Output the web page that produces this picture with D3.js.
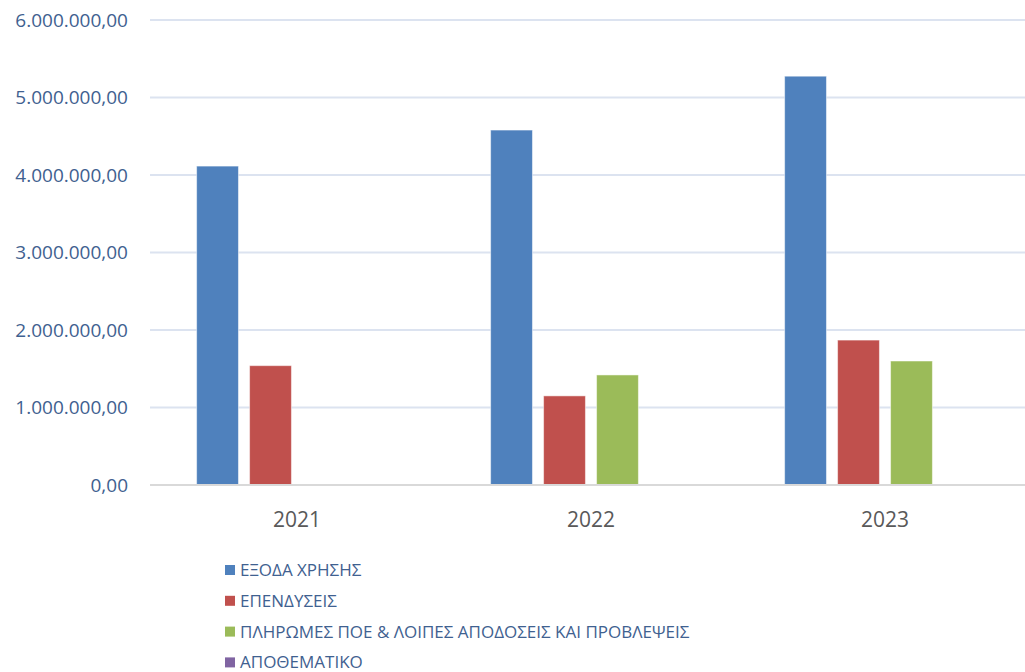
<!DOCTYPE html>
<html>
<head>
<meta charset="utf-8">
<script src="https://cdn.jsdelivr.net/npm/d3@7"></script>
<style>
  body { margin: 0; background: #fff; }
</style>
</head>
<body>
<div id="chart"></div>
<script>
// --- Data ---
const years = ["2021", "2022", "2023"];
const seriesNames = [
    "ΕΞΟΔΑ ΧΡΗΣΗΣ",
    "ΕΠΕΝΔΥΣΕΙΣ",
    "ΠΛΗΡΩΜΕΣ ΠΟΕ & ΛΟΙΠΕΣ ΑΠΟΔΟΣΕΙΣ ΚΑΙ ΠΡΟΒΛΕΨΕΙΣ",
    "ΑΠΟΘΕΜΑΤΙΚΟ"
];
const expenses    = [4115000, 4580000, 5275000];
const investments = [1540000, 1150000, 1870000];
const payments    = [0, 1420000, 1600000];
const reserve     = [0, 0, 0];
const yTicks = [0, 1000000, 2000000, 3000000, 4000000, 5000000, 6000000];
const colors = ["#4f81bd", "#c0504d", "#9bbb59", "#8064a2"];

const seriesValues = [expenses, investments, payments, reserve];

// --- Sizes ---
const W = 1025, H = 672;
const plotLeft = 150, plotRight = 1032;
const plotTop = 20, plotBottom = 485;

const svg = d3.select("#chart").append("svg")
    .attr("width", W)
    .attr("height", H)
    .style("font-family", "'Open Sans', 'Liberation Sans', sans-serif");

// --- Scales ---
const y = d3.scaleLinear().domain([0, 6000000]).range([plotBottom, plotTop]);

const x0 = d3.scaleBand()
    .domain(years)
    .range([plotLeft, plotRight])
    .paddingInner(0)
    .paddingOuter(0);

const x1 = d3.scaleBand()
    .domain(seriesNames)
    .range([0, x0.bandwidth()])
    .paddingInner(0.21)
    .paddingOuter(0.88);

const fmt = v => {
    // Greek locale: dot thousands, comma decimals
    const s = d3.format(",.2f")(v);
    return s.replace(/,/g, "#").replace(/\./g, ",").replace(/#/g, ".");
};

// --- Gridlines ---
svg.append("g")
    .selectAll("line")
    .data(yTicks.filter(d => d > 0))
    .join("line")
    .attr("x1", plotLeft)
    .attr("x2", plotRight)
    .attr("y1", d => y(d))
    .attr("y2", d => y(d))
    .attr("stroke", "#dce3f0")
    .attr("stroke-width", 2);

// --- Y labels ---
svg.append("g")
    .selectAll("text")
    .data(yTicks)
    .join("text")
    .attr("x", 128)
    .attr("y", d => y(d) + 6.5)
    .attr("text-anchor", "end")
    .attr("fill", "#3f6190")
    .style("font-size", "19px")
    .text(d => fmt(d));

// --- Bars ---
const rows = years.map((yr, i) => ({
    year: yr,
    values: seriesNames.map((s, j) => ({ name: s, value: seriesValues[j][i], color: colors[j] }))
}));

const group = svg.append("g")
    .selectAll("g")
    .data(rows)
    .join("g")
    .attr("transform", d => `translate(${x0(d.year)},0)`);

group.selectAll("rect")
    .data(d => d.values.filter(v => v.value > 0))
    .join("rect")
    .attr("x", d => x1(d.name))
    .attr("y", d => y(d.value))
    .attr("width", x1.bandwidth())
    .attr("height", d => plotBottom - y(d.value))
    .attr("fill", d => d.color)
    .attr("stroke", "rgba(255,255,255,0.5)")
    .attr("stroke-width", 1);

// --- Zero axis line ---
svg.append("line")
    .attr("x1", plotLeft)
    .attr("x2", plotRight)
    .attr("y1", plotBottom)
    .attr("y2", plotBottom)
    .attr("stroke", "#d9d9d9")
    .attr("stroke-width", 2);

// --- X labels ---
svg.append("g")
    .selectAll("text")
    .data(years)
    .join("text")
    .attr("x", d => x0(d) + x0.bandwidth() / 2)
    .attr("y", 527)
    .attr("text-anchor", "middle")
    .attr("fill", "#595959")
    .style("font-size", "21px")
    .text(d => d);

// --- Legend ---
const legend = svg.append("g")
    .selectAll("g")
    .data(seriesNames)
    .join("g")
    .attr("transform", (d, i) => `translate(225, ${570 + i * 30.8})`);

legend.append("rect")
    .attr("x", 0)
    .attr("y", -5)
    .attr("width", 10)
    .attr("height", 10)
    .attr("fill", (d, i) => colors[i]);

legend.append("text")
    .attr("x", 15)
    .attr("y", 6)
    .attr("fill", "#3f6190")
    .style("font-size", "17px")
    .text(d => d);
</script>
</body>
</html>
